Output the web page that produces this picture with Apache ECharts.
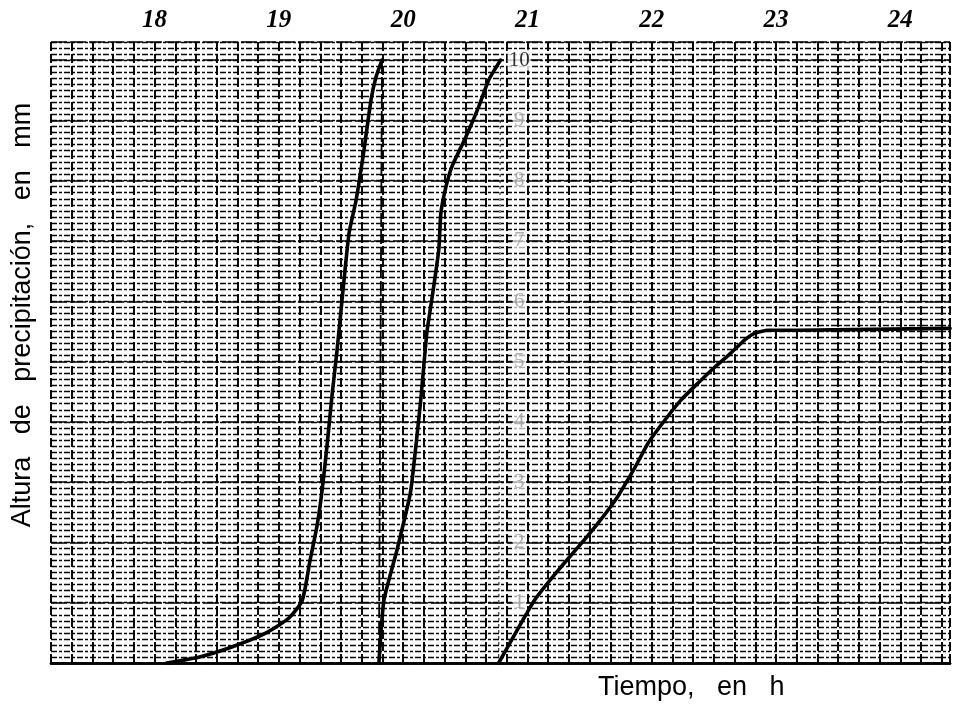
<!DOCTYPE html>
<html>
<head>
<meta charset="utf-8">
<script src="https://cdn.jsdelivr.net/npm/echarts@6/dist/echarts.min.js"></script>
<style>
  html, body { margin: 0; padding: 0; background: #fff; }
  #chart { width: 953px; height: 706px; }
</style>
</head>
<body>
<div id="chart"></div>
<script>
// Pluviograph trace: time in minutes after midnight, depth in mm.
const hourLabels = [18, 19, 20, 21, 22, 23, 24];

// First pen sweep (rises to 10 mm, then the siphon empties)
const trace1Time  = [1085.8, 1101.7, 1117.6, 1133.9, 1145.0, 1151.3, 1155.1, 1158.5, 1160.9, 1163.3, 1165.7, 1168.1, 1170.5, 1173.9, 1177.3, 1181.1, 1184.5, 1186.9, 1189.8];
const trace1Depth = [0.00, 0.10, 0.27, 0.50, 0.75, 1.04, 1.71, 2.29, 2.87, 3.62, 4.45, 5.19, 6.02, 7.13, 7.68, 8.51, 9.34, 9.72, 10.00];

// Second sweep
const trace2Time  = [1188.3, 1190.7, 1197.0, 1202.8, 1204.2, 1208.5, 1211.4, 1213.8, 1217.2, 1218.2, 1220.6, 1223.5, 1230.2, 1236.4, 1241.3, 1247.0];
const trace2Depth = [0.00, 1.04, 1.87, 2.70, 2.99, 4.36, 5.47, 6.02, 6.85, 7.46, 7.89, 8.23, 8.72, 9.22, 9.67, 10.00];

// Third sweep, levelling off when the rain stops
const trace3Time  = [1246.1, 1254.3, 1263.4, 1274.9, 1289.4, 1302.4, 1312.0, 1318.3, 1326.4, 1334.1, 1342.3, 1350.5, 1358.2, 1364.9, 1369.8, 1376.0, 1390.4, 1464.0];
const trace3Depth = [0.00, 0.50, 1.04, 1.54, 2.12, 2.70, 3.25, 3.65, 4.03, 4.36, 4.64, 4.91, 5.14, 5.36, 5.47, 5.52, 5.52, 5.55];

// Siphon discharges (vertical returns to zero)
const siphon1Time  = [1189.8, 1188.3];
const siphon1Depth = [10, 0];
const siphon2Time  = [1247.0, 1246.1];
const siphon2Depth = [10, 0];

// Printed millimetre scale on the chart paper
const scaleValues = [10, 9, 8, 7, 6, 5, 4, 3, 2, 1];
const scaleTime = 1256;

const pairs = (xs, ys) => xs.map((x, i) => [x, ys[i]]);

const chart = echarts.init(document.getElementById('chart'), null, { renderer: 'canvas' });

const traceStyle = { color: '#000', width: 3.6, cap: 'round', join: 'round' };

chart.setOption({
  backgroundColor: '#fff',
  animation: false,
  grid: { left: 51, right: 0, top: 42, bottom: 43 },
  xAxis: [
    {
      type: 'value', position: 'top', min: 1030, max: 1464, interval: 10,
      axisLine: { show: true, lineStyle: { color: '#000', width: 2.5 } },
      axisTick: { show: false },
      axisLabel: {
        interval: 0, margin: 9,
        color: '#000', fontSize: 25, fontStyle: 'italic', fontWeight: 'bold',
        fontFamily: 'Liberation Serif',
        formatter: v => (hourLabels.includes(v / 60) ? String(v / 60) : '')
      },
      splitLine: { show: true, lineStyle: { color: '#000', width: 1.9, type: [9, 3] } }
    },
    {
      type: 'value', position: 'bottom', min: 1030, max: 1464, interval: 10,
      axisLine: { show: true, lineStyle: { color: '#000', width: 2.5 } },
      axisTick: { show: false }, axisLabel: { show: false }, splitLine: { show: false }
    }
  ],
  yAxis: [
    {
      type: 'value', min: 0, max: 10.3, interval: 0.1,
      axisLine: { show: false }, axisTick: { show: false }, axisLabel: { show: false },
      splitLine: { show: true, lineStyle: { color: '#000', width: 1.4, type: [6, 2, 3, 2] } }
    },
    {
      type: 'value', min: 0, max: 10.3, interval: 1, position: 'left',
      axisLine: { show: false }, axisTick: { show: false }, axisLabel: { show: false },
      splitLine: { show: true, lineStyle: { color: '#000', width: 1.6, type: [16, 3] } }
    }
  ],
  series: [
    {
      type: 'line', data: pairs(siphon1Time, siphon1Depth), symbol: 'none',
      lineStyle: { color: '#000', width: 1.8, type: [14, 3] }, z: 3
    },
    {
      type: 'line', data: pairs(siphon2Time, siphon2Depth), symbol: 'none',
      lineStyle: { color: '#444', width: 1.3, type: [3, 3] }, z: 3
    },
    {
      type: 'line', data: pairs(trace1Time, trace1Depth), symbol: 'none',
      smooth: 0.2, lineStyle: traceStyle, z: 5
    },
    {
      type: 'line', data: pairs(trace2Time, trace2Depth), symbol: 'none',
      smooth: 0.15, lineStyle: traceStyle, z: 5
    },
    {
      type: 'line', data: pairs(trace3Time, trace3Depth), symbol: 'none',
      smooth: 0.15, lineStyle: traceStyle, z: 5
    },
    {
      type: 'scatter', symbolSize: 0, z: 6,
      data: scaleValues.map(v => ({
        value: [scaleTime, v],
        label: v === 10
          ? { color: '#000', backgroundColor: '#fff' }
          : { color: '#9a9a9a', backgroundColor: 'rgba(255,255,255,0.85)' }
      })),
      label: {
        show: true, position: 'inside',
        formatter: p => String(p.value[1]),
        fontFamily: 'Liberation Serif', fontSize: 21, padding: [0, 1]
      },
      itemStyle: { color: 'transparent' }
    }
  ],
  graphic: [
    {
      type: 'text', left: 598, top: 674, z: 10,
      style: { text: 'Tiempo,   en   h', fontFamily: 'Liberation Sans', fontSize: 27, fill: '#000' }
    },
    {
      type: 'text', x: 23, y: 315, rotation: Math.PI / 2, z: 10,
      style: {
        text: 'Altura   de   precipitación,   en   mm', fontFamily: 'Liberation Sans', fontSize: 27,
        fill: '#000', align: 'center', verticalAlign: 'middle'
      }
    }
  ]
});
</script>
</body>
</html>
